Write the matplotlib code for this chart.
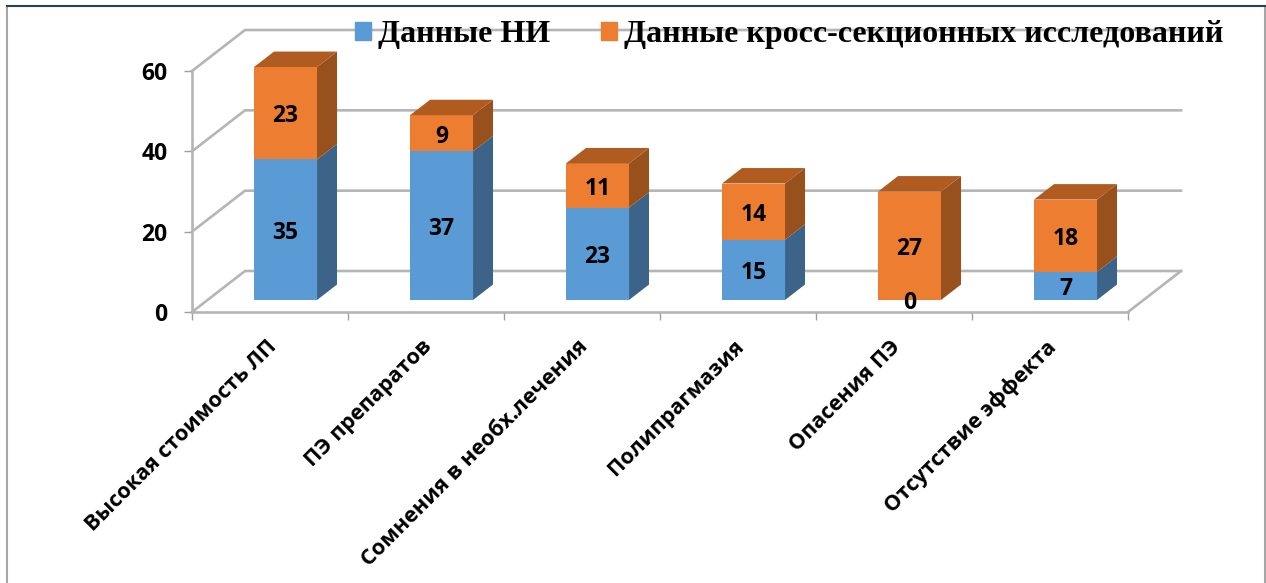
import matplotlib
matplotlib.use('Agg')
import matplotlib.pyplot as plt
from matplotlib.patches import Patch

categories = ['Высокая стоимость ЛП', 'ПЭ препаратов', 'Сомнения в необх.лечения',
              'Полипрагмазия', 'Опасения ПЭ', 'Отсутствие эффекта']
ni_data = [35, 37, 23, 15, 0, 7]
cross_data = [23, 9, 11, 14, 27, 18]
y_ticks = [0, 20, 40, 60]
legend_labels = ['Данные НИ', 'Данные кросс-секционных исследований']

W, H = 1266, 583
plt.rcParams['font.family'] = ['Open Sans', 'DejaVu Sans']

fig = plt.figure(figsize=(W/100, H/100), dpi=100)
# front edge of the chart box, in pixels
left, right, bottom, top = 192, 1128, 312, 71
ax = fig.add_axes([left/W, 1-bottom/H, (right-left)/W, (bottom-top)/H])
ax.set_xlim(-0.5, 5.5)
ax.set_ylim(0, 60)
ax.patch.set_alpha(0)

px_x = (right-left)/6.0
px_y = (bottom-top)/60.0
depth_x, depth_y = 53/px_x, 41/px_y  # full depth of the floor in data units


def proj(x, y, d):
    return x+d*depth_x, y+d*depth_y


grid_c = '#b5b5b5'
for v in y_ticks:
    xs, ys = zip(proj(-0.5, v, 0), proj(-0.5, v, 1), proj(5.5, v, 1))
    ax.plot(xs, ys, color=grid_c, lw=1.9, clip_on=False, zorder=1)
xs, ys = zip(proj(5.5, 0, 1), proj(5.5, 0, 0))
ax.plot(xs, ys, color=grid_c, lw=1.9, clip_on=False, zorder=1)


def box(x, y0, y1, color, side, roof=None, w=63/156.0, d0=0.293, d1=0.67):
    xl, xr = x-w/2, x+w/2
    # side face
    pts = [proj(xr, y0, d0), proj(xr, y0, d1), proj(xr, y1, d1), proj(xr, y1, d0)]
    ax.fill(*zip(*pts), color=side, lw=0, clip_on=False, zorder=2)
    # front face
    pts = [proj(xl, y0, d0), proj(xr, y0, d0), proj(xr, y1, d0), proj(xl, y1, d0)]
    ax.fill(*zip(*pts), color=color, lw=0, clip_on=False, zorder=3)
    if roof:
        pts = [proj(xl, y1, d0), proj(xr, y1, d0), proj(xr, y1, d1), proj(xl, y1, d1)]
        ax.fill(*zip(*pts), color=roof, lw=0, clip_on=False, zorder=3)
    return xl, xr


for i in range(len(categories)):
    a, b = ni_data[i], cross_data[i]
    if a > 0:
        box(i, 0, a, '#5b9bd5', '#3b6488')
    box(i, a, a+b, '#ed7d31', '#98501c', roof='#b05c20')
    cx, cy = proj(i, a/2.0, 0.293)
    ax.text(cx, cy-0.8, str(a), ha='center', va='center', fontsize=16.5, fontweight='bold',
            color='black', zorder=5)
    cx, cy = proj(i, a+b/2.0, 0.293)
    ax.text(cx, cy-0.8, str(b), ha='center', va='center', fontsize=16.5, fontweight='bold',
            color='black', zorder=5)

for s in ['top', 'right']:
    ax.spines[s].set_visible(False)
for s in ['left', 'bottom']:
    ax.spines[s].set_color(grid_c)
    ax.spines[s].set_linewidth(1.9)
ax.set_yticks(y_ticks)
ax.set_xticks([i-0.5 for i in range(len(categories)+1)])
ax.set_xticklabels([])
ax.tick_params(axis='y', length=5.5, width=1, color='#a0a0a0', pad=12, labelsize=16.5)
ax.tick_params(axis='x', length=5.5, width=1, color='#a0a0a0')
for t in ax.get_yticklabels():
    t.set_fontweight('bold')

# category labels, rotated and ending just under each bar
for i, c in enumerate(categories):
    ax.annotate(c, xy=(i, 0), xycoords='data', xytext=(-3, -17.5), textcoords='offset points',
                rotation=45, rotation_mode='anchor', ha='right', va='top',
                fontsize=15.6, fontweight='bold', color='black', annotation_clip=False)

handles = [Patch(color='#5b9bd5'), Patch(color='#ed7d31')]
fig.legend(handles, legend_labels, loc='upper left', bbox_to_anchor=(355/W, 1-20/H),
           ncol=2, frameon=False, borderpad=0, borderaxespad=0,
           handlelength=0.5, handleheight=0.5, handletextpad=0.22, columnspacing=1.6,
           prop={'family': 'Liberation Serif', 'weight': 'bold', 'size': 23})

# outer frame of the slide
fig.add_artist(plt.Line2D([7/W, 7/W], [0, 1-6/H], color='#a6a6a6', lw=1.5))
fig.add_artist(plt.Line2D([1265/W, 1265/W], [0, 1-6/H], color='#a6a6a6', lw=1.5))
fig.add_artist(plt.Line2D([7/W, 1265/W], [1-6/H, 1-6/H], color='#2b3f52', lw=1.5))

fig.savefig('out.png', dpi=100)
